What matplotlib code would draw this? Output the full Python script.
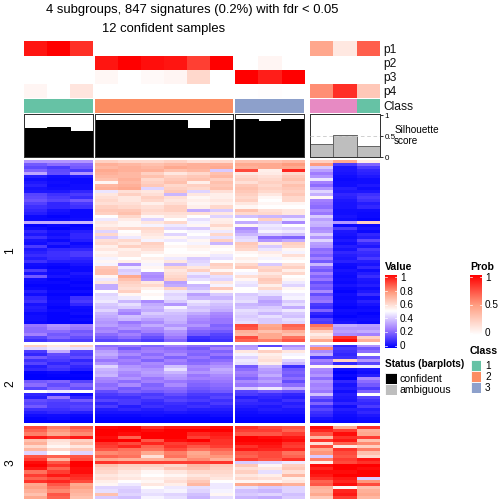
import numpy as np
import matplotlib
matplotlib.use('Agg')
import matplotlib.pyplot as plt
from matplotlib.colors import LinearSegmentedColormap
from matplotlib.patches import Rectangle

plt.rcParams['font.family'] = ['Liberation Sans', 'DejaVu Sans']

# probabilities per sample, one list per group
p1 = [[.93, 1, .85], [0, 0, 0, 0, 0, 0], [0, 0, 0], [.45, .12, .7]]
p2 = [[0, 0, 0], [.93, 1, .95, .93, .8, 1], [0, .05, 0], [0, 0, 0]]
p3 = [[0, 0, 0], [.04, 0, .03, .05, .2, 0], [1, .9, 1], [0, 0, 0]]
p4 = [[.05, 0, .13], [0, 0, 0, 0, 0, 0], [0, .01, 0], [.55, .85, .28]]
prob_names = ['p1', 'p2', 'p3', 'p4']

class_ids = [[1, 1, 1], [2, 2, 2, 2, 2, 2], [3, 3, 3], [4, 4, 1]]
class_colors = {1: '#66C2A5', 2: '#FC8D62', 3: '#8DA0CB', 4: '#E78AC3'}

silhouette = [[.70, .73, .63], [.89, .89, .89, .89, .70, .89], [.91, .87, .91], [.31, .52, .27]]

# heatmap values in hundredths: 3 + 6 + 3 + 3 samples
heat_1 = [
    [30, 30, 30, 62, 60, 60, 62, 58, 60, 66, 66, 68, 62, 72, 55],
    [18, 22, 20, 70, 68, 66, 68, 70, 70, 72, 72, 75, 75, 12, 20],
    [15, 12, 18, 68, 70, 68, 72, 70, 72, 70, 72, 72, 40, 5, 12],
    [20, 15, 12, 72, 70, 70, 66, 68, 40, 88, 54, 94, 32, 5, 8],
    [33, 16, 30, 70, 68, 62, 56, 60, 66, 56, 55, 60, 25, 4, 7],
    [6, 3, 5, 68, 68, 66, 62, 64, 68, 60, 58, 64, 30, 3, 5],
    [3, 2, 2, 66, 70, 60, 64, 66, 62, 62, 60, 66, 45, 2, 3],
    [5, 3, 2, 52, 68, 62, 66, 54, 66, 58, 62, 62, 26, 3, 3],
    [7, 2, 3, 68, 70, 64, 60, 62, 64, 64, 60, 66, 22, 3, 5],
    [4, 3, 3, 70, 72, 42, 62, 60, 66, 66, 62, 64, 30, 6, 3],
    [5, 5, 8, 45, 58, 56, 64, 42, 58, 64, 60, 62, 42, 5, 5],
    [14, 10, 12, 56, 62, 58, 36, 56, 54, 62, 56, 64, 35, 8, 10],
    [15, 12, 9, 58, 56, 62, 58, 52, 54, 60, 52, 60, 52, 7, 12],
    [17, 14, 18, 60, 56, 60, 56, 54, 56, 62, 50, 60, 26, 5, 10],
    [13, 8, 12, 58, 58, 54, 58, 52, 54, 56, 52, 52, 24, 4, 6],
    [10, 8, 10, 62, 60, 58, 62, 54, 60, 52, 50, 50, 22, 4, 8],
    [8, 4, 2, 64, 64, 60, 62, 34, 40, 66, 58, 56, 28, 3, 3],
    [6, 3, 2, 62, 66, 58, 58, 58, 56, 60, 60, 56, 24, 3, 2],
    [2, 1, 2, 50, 60, 52, 56, 50, 42, 38, 36, 35, 40, 4, 2],
    [2, 2, 3, 46, 55, 42, 50, 44, 54, 50, 62, 46, 32, 3, 1],
    [34, 34, 36, 56, 52, 56, 60, 48, 55, 34, 40, 28, 36, 30, 62],
    [1, 2, 1, 54, 52, 48, 46, 52, 60, 52, 46, 50, 35, 2, 2],
    [3, 1, 2, 58, 60, 60, 42, 40, 54, 28, 44, 42, 28, 12, 4],
    [8, 4, 6, 42, 50, 58, 50, 48, 46, 32, 48, 46, 30, 5, 2],
    [5, 3, 8, 60, 52, 56, 42, 50, 60, 36, 40, 38, 40, 4, 8],
    [10, 5, 8, 40, 46, 54, 52, 46, 44, 42, 22, 20, 30, 3, 6],
    [4, 2, 6, 58, 60, 48, 46, 52, 62, 44, 30, 34, 42, 5, 15],
    [3, 6, 2, 60, 56, 62, 50, 48, 36, 64, 55, 62, 32, 3, 8],
    [12, 2, 4, 54, 62, 60, 52, 54, 52, 62, 40, 60, 30, 6, 5],
    [5, 8, 8, 56, 54, 58, 50, 52, 50, 60, 45, 52, 22, 4, 12],
    [7, 10, 12, 52, 56, 54, 50, 50, 52, 52, 55, 48, 24, 8, 9],
    [9, 10, 12, 54, 56, 50, 52, 52, 46, 50, 52, 58, 20, 6, 8],
    [6, 9, 8, 48, 50, 54, 46, 40, 44, 54, 48, 52, 26, 5, 12],
    [10, 6, 6, 52, 54, 52, 56, 42, 50, 52, 50, 50, 18, 7, 6],
    [3, 2, 4, 48, 30, 48, 36, 44, 62, 60, 40, 58, 36, 3, 4],
    [2, 1, 2, 64, 46, 52, 60, 56, 60, 64, 60, 62, 22, 2, 8],
    [12, 3, 2, 66, 40, 50, 56, 62, 52, 50, 62, 54, 18, 4, 3],
    [4, 2, 5, 66, 42, 30, 58, 46, 62, 48, 56, 60, 26, 3, 6],
    [18, 4, 3, 52, 72, 28, 60, 40, 44, 58, 60, 50, 20, 2, 9],
    [3, 1, 2, 46, 66, 30, 62, 44, 42, 52, 64, 52, 24, 3, 5],
    [2, 2, 1, 56, 62, 56, 32, 50, 56, 46, 62, 46, 16, 2, 4],
    [1, 1, 2, 34, 60, 60, 34, 36, 48, 44, 54, 42, 20, 4, 6],
    [2, 1, 1, 34, 58, 54, 62, 38, 64, 50, 60, 52, 18, 2, 3],
    [6, 2, 3, 50, 62, 50, 46, 44, 52, 50, 46, 50, 28, 1, 5],
    [3, 1, 1, 42, 52, 52, 42, 32, 40, 40, 44, 46, 16, 3, 9],
    [8, 2, 10, 44, 46, 50, 44, 36, 36, 42, 36, 48, 22, 2, 3],
    [10, 3, 12, 46, 36, 28, 40, 46, 42, 44, 32, 40, 24, 3, 7],
    [4, 2, 8, 40, 44, 34, 30, 42, 38, 36, 34, 44, 12, 2, 4],
    [6, 1, 3, 38, 40, 36, 48, 38, 36, 38, 40, 34, 10, 1, 2],
    [5, 2, 2, 42, 30, 34, 42, 40, 34, 44, 42, 46, 20, 3, 3],
    [2, 1, 3, 36, 26, 40, 38, 34, 28, 42, 36, 40, 8, 2, 1],
    [3, 1, 1, 34, 38, 36, 36, 30, 26, 40, 44, 38, 5, 1, 2],
    [3, 1, 2, 32, 36, 32, 36, 28, 24, 42, 40, 44, 14, 3, 3],
    [2, 1, 1, 30, 24, 28, 34, 26, 24, 44, 40, 42, 12, 4, 2],
    [24, 30, 26, 32, 28, 34, 30, 30, 20, 88, 72, 84, 82, 34, 32],
    [22, 28, 24, 26, 30, 28, 36, 24, 22, 86, 74, 82, 76, 30, 30],
    [22, 22, 18, 28, 22, 26, 30, 20, 18, 70, 66, 70, 62, 32, 34],
    [26, 18, 20, 22, 26, 20, 28, 18, 14, 68, 72, 66, 55, 28, 26],
    [14, 20, 16, 18, 22, 16, 24, 10, 12, 88, 72, 82, 60, 92, 62],
    [10, 14, 12, 14, 16, 12, 20, 8, 10, 84, 80, 86, 72, 98, 70],
]
heat_2 = [
    [62, 56, 62, 22, 24, 20, 26, 22, 20, 30, 14, 28, 34, 8, 30],
    [42, 46, 44, 26, 18, 24, 22, 18, 26, 32, 50, 34, 78, 12, 18],
    [12, 34, 14, 32, 24, 26, 24, 22, 20, 56, 62, 56, 28, 10, 22],
    [8, 16, 12, 34, 28, 22, 28, 20, 24, 48, 54, 48, 34, 8, 50],
    [18, 14, 16, 30, 22, 26, 20, 24, 18, 42, 56, 50, 12, 10, 18],
    [10, 12, 8, 24, 26, 20, 26, 20, 22, 46, 58, 42, 26, 62, 30],
    [14, 8, 12, 30, 24, 28, 24, 22, 26, 44, 54, 36, 22, 8, 14],
    [6, 12, 8, 42, 30, 26, 38, 28, 30, 18, 36, 10, 52, 56, 46],
    [8, 10, 6, 36, 32, 30, 44, 26, 34, 22, 32, 18, 28, 2, 4],
    [1, 2, 0, 34, 28, 32, 36, 30, 32, 26, 30, 20, 26, 0, 3],
    [0, 1, 1, 36, 26, 30, 32, 24, 28, 24, 34, 18, 30, 2, 6],
    [0, 0, 0, 28, 30, 24, 30, 26, 26, 20, 28, 22, 22, 0, 28],
    [18, 20, 14, 26, 22, 26, 24, 22, 24, 28, 32, 16, 30, 8, 22],
    [22, 16, 20, 22, 28, 20, 28, 20, 22, 24, 26, 22, 26, 4, 18],
    [14, 20, 16, 24, 18, 22, 22, 18, 20, 40, 46, 34, 28, 6, 12],
    [50, 46, 50, 16, 20, 18, 20, 16, 18, 14, 18, 16, 24, 3, 20],
    [8, 6, 3, 12, 14, 12, 16, 12, 12, 12, 10, 8, 38, 6, 50],
    [6, 24, 8, 10, 10, 14, 12, 10, 14, 6, 8, 6, 18, 5, 14],
    [16, 14, 18, 14, 12, 10, 14, 12, 10, 10, 6, 10, 12, 4, 10],
    [14, 12, 12, 8, 12, 8, 10, 8, 12, 8, 8, 6, 20, 8, 8],
    [18, 12, 14, 12, 6, 10, 8, 10, 8, 6, 5, 8, 10, 3, 12],
    [10, 10, 12, 6, 8, 6, 8, 6, 6, 4, 6, 5, 14, 6, 6],
    [6, 8, 6, 4, 4, 4, 5, 4, 4, 3, 4, 4, 10, 4, 8],
    [3, 3, 2, 2, 2, 3, 2, 2, 3, 2, 2, 2, 8, 3, 5],
    [1, 2, 1, 1, 1, 1, 1, 1, 1, 1, 1, 1, 4, 2, 3],
    [0, 0, 0, 0, 0, 0, 0, 0, 0, 0, 0, 0, 2, 1, 2],
]
heat_3 = [
    [88, 80, 86, 98, 99, 92, 96, 96, 98, 92, 88, 86, 98, 72, 92],
    [84, 76, 82, 100, 100, 98, 100, 100, 100, 90, 90, 84, 94, 90, 70],
    [80, 72, 78, 100, 98, 100, 100, 94, 96, 86, 86, 90, 86, 98, 72],
    [96, 92, 96, 98, 84, 100, 100, 90, 94, 100, 98, 96, 68, 92, 90],
    [66, 58, 62, 100, 100, 86, 98, 100, 92, 100, 100, 98, 92, 96, 66],
    [70, 56, 66, 92, 88, 94, 90, 92, 92, 98, 98, 92, 58, 84, 78],
    [60, 52, 56, 90, 94, 84, 92, 86, 90, 92, 96, 90, 88, 56, 62],
    [68, 60, 64, 86, 82, 82, 88, 82, 84, 96, 94, 94, 72, 92, 80],
    [42, 50, 42, 78, 80, 72, 80, 72, 80, 86, 88, 82, 76, 88, 66],
    [86, 84, 86, 84, 82, 58, 82, 74, 76, 84, 88, 84, 40, 86, 60],
    [90, 68, 88, 72, 70, 70, 72, 78, 70, 90, 86, 92, 80, 90, 96],
    [98, 86, 100, 92, 90, 90, 90, 90, 92, 40, 42, 46, 54, 88, 92],
    [100, 92, 100, 66, 62, 62, 60, 68, 64, 64, 52, 62, 98, 100, 100],
    [96, 84, 98, 62, 60, 58, 64, 66, 62, 58, 56, 64, 94, 100, 98],
    [82, 90, 98, 60, 56, 52, 56, 60, 60, 62, 44, 58, 98, 98, 100],
    [90, 96, 94, 56, 54, 50, 52, 56, 58, 56, 54, 68, 96, 100, 100],
    [84, 88, 92, 58, 56, 54, 56, 60, 56, 60, 58, 54, 92, 96, 40],
    [92, 94, 88, 54, 50, 52, 58, 64, 50, 52, 52, 56, 84, 94, 76],
    [72, 86, 72, 52, 46, 56, 54, 68, 46, 72, 74, 70, 86, 98, 88],
    [74, 82, 74, 42, 42, 50, 46, 44, 46, 44, 40, 42, 70, 52, 66],
    [70, 78, 70, 44, 40, 46, 48, 42, 48, 38, 36, 42, 68, 94, 70],
    [66, 86, 68, 66, 42, 44, 42, 38, 52, 40, 42, 38, 72, 96, 72],
    [72, 84, 66, 40, 38, 48, 44, 36, 44, 36, 34, 40, 64, 90, 68],
]

slice_labels = ['1', '2', '3']
value_ticks = [0, 0.2, 0.4, 0.6, 0.8, 1]
prob_ticks = [0, 0.5, 1]
status_labels = ['confident', 'ambiguous']
status_colors = ['black', '#BEBEBE']

value_cmap = LinearSegmentedColormap.from_list(
    'value', ['#0000FF', '#A07CFF', '#FFFFFF', '#FF9E81', '#FF0000'])
prob_cmap = LinearSegmentedColormap.from_list('prob', ['#FFFFFF', '#FF9E81', '#FF0000'])

SIZE = 504.0
group_x = [(24, 93), (95, 233), (235, 304), (310, 380)]
group_cols = [(0, 3), (3, 9), (9, 12), (12, 15)]
anno_y = [(41, 56), (56, 70), (70, 84), (84, 98)]
block_y = [(160, 342), (345, 423), (426, 499)]

fig = plt.figure(figsize=(7, 7), dpi=72, facecolor='white')


def px_axes(x0, y0, x1, y1):
    ax = fig.add_axes([x0 / SIZE, 1 - y1 / SIZE, (x1 - x0) / SIZE, (y1 - y0) / SIZE])
    ax.set_xticks([])
    ax.set_yticks([])
    for s in ax.spines.values():
        s.set_visible(False)
    return ax


def px_text(x, y, s, **kw):
    kw.setdefault('va', 'center')
    kw.setdefault('ha', 'left')
    fig.text(x / SIZE, 1 - y / SIZE, s, **kw)


# annotations on top
for row, name, (y0, y1) in zip([p1, p2, p3, p4], prob_names, anno_y):
    for vals, (x0, x1) in zip(row, group_x):
        ax = px_axes(x0, y0, x1, y1)
        ax.imshow([vals], cmap=prob_cmap, vmin=0, vmax=1, aspect='auto', interpolation='nearest')
    px_text(383, (y0 + y1) / 2 + 1, name, fontsize=12, color='#111111')

for ids, (x0, x1) in zip(class_ids, group_x):
    ax = px_axes(x0, 99, x1, 113)
    for i, c in enumerate(ids):
        ax.bar(i, 1, width=1, color=class_colors[c], linewidth=0)
    ax.set_xlim(-0.5, len(ids) - 0.5)
    ax.set_ylim(0, 1)
px_text(383, 107, 'Class', fontsize=12, color='#111111')

# silhouette bars
for g, (vals, (x0, x1)) in enumerate(zip(silhouette, group_x)):
    ax = px_axes(x0, 114, x1, 157)
    bar_col = '#BEBEBE' if g == 3 else 'black'
    edge = '#666666' if g == 3 else 'black'
    ax.bar(range(len(vals)), vals, width=1, color=bar_col, edgecolor=edge, linewidth=1)
    ax.set_xlim(-0.5, len(vals) - 0.5)
    ax.set_ylim(0, 1.03)
    if g == 3:
        ax.axhline(0.5, color='#CCCCCC', lw=0.9, ls=(0, (4, 3)), zorder=5)
    for s in ax.spines.values():
        s.set_visible(True)
        s.set_color('#333333')
        s.set_linewidth(1)
    if g == 3:
        ax.yaxis.tick_right()
        ax.set_yticks([0, 0.5, 1])
        ax.set_yticklabels(['0', '0.5', '1'], fontsize=8)
        ax.tick_params(axis='y', length=3, width=0.8, pad=1.5)
px_text(395, 130, 'Silhouette', fontsize=10)
px_text(394, 141, 'score', fontsize=10)

# heatmap slices
for data, (y0, y1), lab in zip([heat_1, heat_2, heat_3], block_y, slice_labels):
    mat = np.array(data) / 100.0
    for (c0, c1), (x0, x1) in zip(group_cols, group_x):
        ax = px_axes(x0, y0, x1, y1)
        ax.imshow(mat[:, c0:c1], cmap=value_cmap, vmin=0, vmax=1, aspect='auto', interpolation='nearest')
    px_text(10, (y0 + y1) / 2, lab, fontsize=12, rotation=90, ha='center')

# legends
px_text(385, 267, 'Value', fontsize=10.5, fontweight='bold')
ax = px_axes(385, 275, 397, 348)
ax.imshow(np.linspace(1, 0, 200).reshape(-1, 1), cmap=value_cmap, vmin=0, vmax=1, aspect='auto',
          extent=[0, 1, -0.03, 1.03])
for v in value_ticks:
    ax.plot([0, .2], [v, v], color='white', lw=0.7)
    ax.plot([.8, 1], [v, v], color='white', lw=0.7)
    px_text(400, 346 - v * 68, str(v), fontsize=10)
ax.set_xlim(0, 1)
ax.set_ylim(-0.03, 1.03)

px_text(470, 267, 'Prob', fontsize=10.5, fontweight='bold')
ax = px_axes(470, 275, 482, 335)
ax.imshow(np.linspace(1, 0, 200).reshape(-1, 1), cmap=prob_cmap, vmin=0, vmax=1, aspect='auto',
          extent=[0, 1, -0.03, 1.03])
for v in prob_ticks:
    ax.plot([0, .2], [v, v], color='white', lw=0.7)
    ax.plot([.8, 1], [v, v], color='white', lw=0.7)
    px_text(485, 333 - v * 55, str(v), fontsize=10)
ax.set_xlim(0, 1)
ax.set_ylim(-0.03, 1.03)

px_text(470, 351, 'Class', fontsize=10.5, fontweight='bold')
for i, c in enumerate([1, 2, 3]):
    ax = px_axes(471, 360 + i * 11, 481, 371 + i * 11)
    ax.add_patch(Rectangle((0, 0), 1, 1, facecolor=class_colors[c], edgecolor='white', lw=0.8))
    px_text(485, 366 + i * 11, str(c), fontsize=10)

px_text(385, 364, 'Status (barplots)', fontsize=10, fontweight='bold')
for i, (lab, col) in enumerate(zip(status_labels, status_colors)):
    ax = px_axes(385, 373 + i * 11, 397, 384 + i * 11)
    ax.add_patch(Rectangle((0, 0), 1, 1, facecolor=col, edgecolor='white', lw=0.8))
    px_text(400, 379 + i * 11, lab, fontsize=10.5)

# titles
px_text(192, 10, '4 subgroups, 847 signatures (0.2%) with fdr < 0.05', fontsize=13, ha='center')
px_text(164, 29, '12 confident samples', fontsize=13, ha='center')

fig.savefig('out.png', dpi=72)
plt.close(fig)
